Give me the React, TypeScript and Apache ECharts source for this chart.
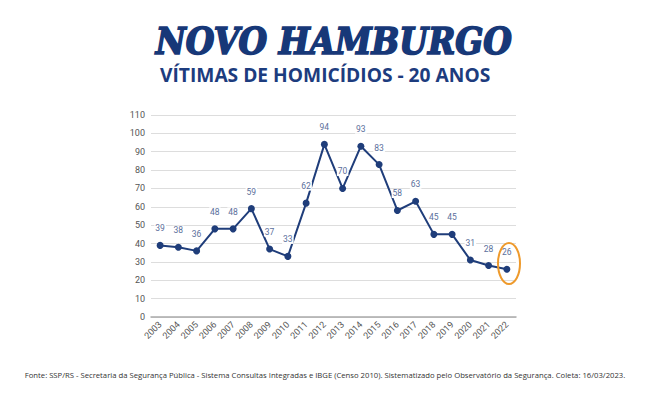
import React, { useEffect, useRef } from "react";
import * as echarts from "echarts";

const years = ["2003","2004","2005","2006","2007","2008","2009","2010","2011","2012","2013","2014","2015","2016","2017","2018","2019","2020","2021","2022"];
const victims = [39, 38, 36, 48, 48, 59, 37, 33, 62, 94, 70, 93, 83, 58, 63, 45, 45, 31, 28, 26];

const title = "NOVO HAMBURGO";
const subtitle = "VÍTIMAS DE HOMICÍDIOS - 20 ANOS";
const source = "Fonte: SSP/RS - Secretaria da Segurança Pública - Sistema Consultas Integradas e IBGE (Censo 2010). Sistematizado pelo Observatório da Segurança. Coleta: 16/03/2023.";

export default function App() {
  const ref = useRef<HTMLDivElement>(null);
  useEffect(() => {
    if (!ref.current) return;
    const chart = echarts.init(ref.current, null, { renderer: "svg" });
    chart.setOption({
      animation: false,
      backgroundColor: "#ffffff",
      grid: { left: 151, right: 134, top: 115, bottom: 83 },
      xAxis: {
        type: "category",
        data: years,
        boundaryGap: true,
        axisLine: { lineStyle: { color: "#aaaaaa", width: 1.5 } },
        axisTick: { show: false },
        axisLabel: { rotate: 45, color: "#555555", fontSize: 9, fontFamily: "Roboto", interval: 0, margin: 6 },
      },
      yAxis: {
        type: "value",
        min: 0,
        max: 110,
        interval: 10,
        axisLine: { show: false },
        axisTick: { show: false },
        splitLine: { lineStyle: { color: "#dddddd" } },
        axisLabel: { color: "#555555", fontSize: 9, fontFamily: "Roboto", margin: 6 },
      },
      series: [
        {
          type: "line",
          data: victims,
          symbol: "circle",
          symbolSize: 7,
          lineStyle: { color: "#1f3d7a", width: 2 },
          itemStyle: { color: "#1f3d7a" },
          label: {
            show: true,
            position: "top",
            distance: 9,
            color: "#5b6f9c",
            fontSize: 8.5,
            fontFamily: "Roboto",
            backgroundColor: "#ffffff",
            padding: [0, 1],
          },
        },
      ],
      graphic: [
        {
          type: "text",
          left: 155,
          top: 22,
          style: {
            text: title,
            fontFamily: "DejaVu Serif Condensed, DejaVu Serif",
            fontWeight: "bold",
            fontStyle: "italic",
            fontSize: 36.5,
            lineHeight: 34,
            fill: "#173878",
            stroke: "#173878",
            lineWidth: 1.6,
          },
        },
        {
          type: "text",
          left: 160,
          top: 65,
          style: {
            text: subtitle,
            fontFamily: "Open Sans",
            fontWeight: "bold",
            fontSize: 19.2,
            lineHeight: 19,
            fill: "#1d3c7e",
          },
        },
        {
          type: "ellipse",
          shape: { cx: 509, cy: 263.5, rx: 11, ry: 20.5 },
          style: { fill: "none", stroke: "#ee9a2c", lineWidth: 2 },
          z: 10,
        },
        {
          type: "text",
          left: "center",
          top: 371,
          style: {
            text: source,
            fontFamily: "Open Sans",
            fontSize: 7.7,
            fill: "#333333",
          },
        },
      ],
    });
    return () => chart.dispose();
  }, []);
  return <div ref={ref} style={{ width: 650, height: 400, margin: -8 }} />;
}
